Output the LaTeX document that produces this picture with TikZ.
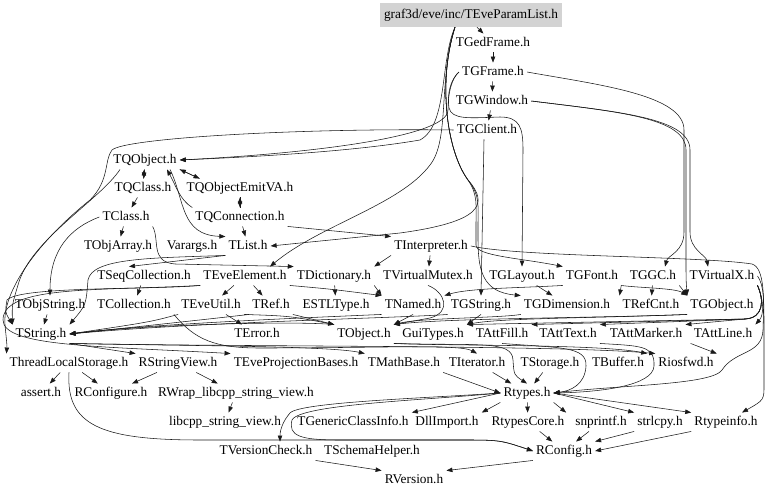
\documentclass[tikz,border=0pt]{standalone}
\usepackage{fontspec}
\setmainfont{Liberation Serif}
\usepackage{tikz}
\usetikzlibrary{arrows.meta}
\definecolor{rootgray}{RGB}{211,211,211}

\begin{document}
\begin{tikzpicture}[x=1pt,y=-1pt,
  font=\fontsize{13.3}{16}\selectfont,
  hdr/.style={inner xsep=3pt,inner ysep=3pt,text height=9.5pt,text depth=3pt},
  inc/.style={-{Triangle[length=6pt,width=4.5pt]},line width=0.55pt,black!90}]
\useasboundingbox (0,0) rectangle (768,497);

\node[hdr,fill=rootgray,inner sep=0pt,minimum width=182pt,minimum height=24pt] (param) at (471,15) {graf3d/eve/inc/TEveParamList.h};
\node[hdr] (gedframe) at (493,43) {TGedFrame.h};
\node[hdr] (gframe) at (493,72) {TGFrame.h};
\node[hdr] (gwindow) at (492,101) {TGWindow.h};
\node[hdr] (gclient) at (487,130) {TGClient.h};
\node[hdr] (qobject) at (145,160) {TQObject.h};
\node[hdr] (qclass) at (143,188) {TQClass.h};
\node[hdr] (qemit) at (240,188) {TQObjectEmitVA.h};
\node[hdr] (tclass) at (126,217) {TClass.h};
\node[hdr] (qconn) at (240,217) {TQConnection.h};
\node[hdr] (objarray) at (118,246) {TObjArray.h};
\node[hdr] (varargs) at (192,246) {Varargs.h};
\node[hdr] (tlist) at (248,246) {TList.h};
\node[hdr] (interp) at (431,246) {TInterpreter.h};
\node[hdr] (seqcoll) at (144,276) {TSeqCollection.h};
\node[hdr] (eveelem) at (245,276) {TEveElement.h};
\node[hdr] (dict) at (334,276) {TDictionary.h};
\node[hdr] (vmutex) at (428,276) {TVirtualMutex.h};
\node[hdr] (glayout) at (522,276) {TGLayout.h};
\node[hdr] (gfont) at (592,276) {TGFont.h};
\node[hdr] (ggc) at (653,276) {TGGC.h};
\node[hdr] (vx) at (722,276) {TVirtualX.h};
\node[hdr] (objstring) at (50,305) {TObjString.h};
\node[hdr] (coll) at (134,305) {TCollection.h};
\node[hdr] (eveutil) at (211,305) {TEveUtil.h};
\node[hdr] (tref) at (271,305) {TRef.h};
\node[hdr] (estl) at (336,305) {ESTLType.h};
\node[hdr] (named) at (413,305) {TNamed.h};
\node[hdr] (gstring) at (481,305) {TGString.h};
\node[hdr] (gdim) at (567,305) {TGDimension.h};
\node[hdr] (refcnt) at (651,305) {TRefCnt.h};
\node[hdr] (gobject) at (722,305) {TGObject.h};
\node[hdr] (tstring) at (41,334) {TString.h};
\node[hdr] (terror) at (257,334) {TError.h};
\node[hdr] (tobject) at (364,334) {TObject.h};
\node[hdr] (guitypes) at (433,334) {GuiTypes.h};
\node[hdr] (attfill) at (502,334) {TAttFill.h};
\node[hdr] (atttext) at (568,334) {TAttText.h};
\node[hdr] (attmarker) at (646,334) {TAttMarker.h};
\node[hdr] (attline) at (723,334) {TAttLine.h};
\node[hdr] (tls) at (69,363) {ThreadLocalStorage.h};
\node[hdr] (rsv) at (178,363) {RStringView.h};
\node[hdr] (projb) at (296,363) {TEveProjectionBases.h};
\node[hdr] (mathbase) at (404,363) {TMathBase.h};
\node[hdr] (iter) at (477,363) {TIterator.h};
\node[hdr] (storage) at (550,363) {TStorage.h};
\node[hdr] (buffer) at (618,363) {TBuffer.h};
\node[hdr] (riosfwd) at (686,363) {Riosfwd.h};
\node[hdr] (assert) at (41,393) {assert.h};
\node[hdr] (rconfigure) at (111,393) {RConfigure.h};
\node[hdr] (rwrap) at (236,393) {RWrap\_libcpp\_string\_view.h};
\node[hdr] (rtypes) at (527,393) {Rtypes.h};
\node[hdr] (libcpp) at (225,422) {libcpp\_string\_view.h};
\node[hdr] (genclass) at (353,422) {TGenericClassInfo.h};
\node[hdr] (dllimport) at (447,422) {DllImport.h};
\node[hdr] (rtypescore) at (528,422) {RtypesCore.h};
\node[hdr] (snprintf) at (601,422) {snprintf.h};
\node[hdr] (strlcpy) at (660,422) {strlcpy.h};
\node[hdr] (rtypeinfo) at (726,422) {Rtypeinfo.h};
\node[hdr] (versioncheck) at (266,451) {TVersionCheck.h};
\node[hdr] (schema) at (372,451) {TSchemaHelper.h};
\node[hdr] (rconfig) at (564,451) {RConfig.h};
\node[hdr] (rversion) at (414,480) {RVersion.h};

\draw[inc] ([xshift=6pt]param.south) -- (gedframe);
\draw[inc] (gedframe) -- (gframe);
\draw[inc] (gframe) -- (gwindow);
\draw[inc] (gwindow) -- (gclient);
\draw[inc] ([xshift=-16pt]param.south) .. controls (440,60) and (448,125) .. (420,140) .. controls (350,152) and (250,157) .. (qobject.east);
\draw[inc] (gframe.west) .. controls (452,78) and (448,92) .. (448,110) .. controls (448,138) and (300,154) .. (qobject.east);
\draw[inc] ([xshift=-16pt]param.south) .. controls (438,80) and (446,150) .. (468,180) .. controls (490,205) and (480,222) .. (400,233) -- (tlist.east);
\draw[inc] ([xshift=-16pt]param.south) .. controls (438,80) and (450,140) .. (430,165) .. controls (400,205) and (320,225) .. ([xshift=25pt]eveelem.north);
\draw[inc] ([xshift=-16pt]param.south) .. controls (438,80) and (446,150) .. (468,180) .. controls (480,195) and (478,205) .. (478,225) -- (478,238) .. controls (478,270) and (482,292) .. (gdim.north west);
\draw[inc] ([xshift=-16pt]param.south) .. controls (438,80) and (446,150) .. (468,180) .. controls (478,195) and (476,205) .. (476,225) -- (476,245) .. controls (476,256) and (520,258) .. (gfont.north west);
\draw[inc] (gclient.west) .. controls (300,128) and (125,138) .. (112,150) .. controls (104,160) and (110,180) .. (90,200) .. controls (40,240) and (2,290) .. (5,325) .. controls (7,345) .. (tls.north west);
\draw[inc] ([xshift=-25pt]qobject.south) .. controls (100,200) and (30,240) .. (18,285) .. controls (12,305) .. (tstring.north west);

\draw[inc] (qobject) -- (qclass);
\draw[inc] (qclass) -- (qobject);
\draw[inc] (qobject.south east) -- ([xshift=16pt]qemit.north west);
\draw[inc] ([xshift=16pt]qemit.north west) -- (qobject.south east);
\draw[inc] (qemit) -- (qconn);
\draw[inc] (qconn) -- (qemit);
\draw[inc] (qclass) -- (tclass);
\draw[inc] (tclass) -- (objarray);
\draw[inc] (tclass.west) .. controls (70,228) and (50,250) .. (objstring.north);
\draw[inc] (tclass.south east) .. controls (160,240) and (150,262) .. (175,264) -- (dict.north west);
\draw[inc] ([xshift=25pt]qobject.south) .. controls (185,200) and (180,235) .. (tlist.north west);
\draw[inc] (qconn.north west) .. controls (180,200) and (176,186) .. ([xshift=22pt]qobject.south);
\draw[inc] (qconn) -- (tlist);
\draw[inc] (qconn.south east) -- (interp.north west);
\draw[inc] (tlist.south west) -- ([xshift=-15pt]seqcoll.north);
\draw[inc] (tlist.south west) .. controls (150,258) and (92,258) .. (88,280) .. controls (86,305) .. (tstring.north east);

\draw[inc] (gframe.west) .. controls (450,80) and (447,95) .. (449,108) .. controls (452,120) and (470,118) .. (500,117) .. controls (520,117) and (523,128) .. (523,150) -- (glayout.north);
\draw[inc] (gframe.east) .. controls (600,85) and (684,95) .. (684,130) -- (684,232) .. controls (684,252) and (668,255) .. ([xshift=12pt]ggc.north);
\draw[inc] (gwindow.east) .. controls (620,112) and (690,118) .. (690,150) -- (690,232) .. controls (690,250) and (706,255) .. ([xshift=-14pt]vx.north);
\draw[inc] (gwindow.east) .. controls (620,112) and (686,118) .. (686,150) -- (686,260) .. controls (686,280) .. (gobject.north west);
\draw[inc] ([xshift=-3pt]gclient.south) -- (gstring.north);
\draw[inc] (interp.east) .. controls (520,257) and (700,256) .. (752,264) .. controls (765,268) and (764,300) .. (763,330) .. controls (762,355) and (735,350) .. (722,370) .. controls (712,385) and (620,385) .. (rtypes.east);

\draw[inc] (ggc) -- (refcnt);
\draw[inc] (gfont.south east) -- (refcnt.north west);
\draw[inc] (ggc.south east) -- (gobject.north west);
\draw[inc] (gfont.south east) .. controls (640,288) and (675,288) .. (gobject.north west);
\draw[inc] (glayout) -- (gdim);
\draw[inc] (gfont.south west) .. controls (520,288) and (470,288) .. (named.north east);
\draw[inc] (interp.south west) -- (dict.north east);
\draw[inc] (interp) -- (vmutex);
\draw[inc] (dict) -- (estl);
\draw[inc] (dict.south east) -- (named.north west);
\draw[inc] (vmutex.south) .. controls (445,292) and (452,312) .. (430,318) -- (tobject.north east);

\draw[inc] (eveelem) -- (eveutil);
\draw[inc] (eveelem) -- (tref);
\draw[inc] (eveelem.south east) .. controls (330,289) .. (named.north west);
\draw[inc] (eveelem.south west) .. controls (150,290) and (20,286) .. (7,300) .. controls (5,312) .. (tstring.north west);
\draw[inc] (eveelem.south west) .. controls (100,291) and (3,285) .. (3,320) .. controls (3,347) and (100,346) .. (projb.north west);
\draw[inc] (seqcoll) -- (coll);
\draw[inc] (eveutil) -- (terror);
\draw[inc] (eveutil.south west) .. controls (150,322) .. (tstring.east);
\draw[inc] (eveutil.south east) .. controls (290,316) .. (tobject.north west);
\draw[inc] (tref.south east) -- (tobject.north west);
\draw[inc] (tref.south west) .. controls (200,320) .. (tstring.east);
\draw[inc] (objstring) -- (tstring);
\draw[inc] (coll.south east) .. controls (195,340) and (215,348) .. (260,348) .. controls (380,348) and (460,344) .. (iter.north);

\draw[inc] (tstring.south east) -- (rsv.north west);
\draw[inc] (tstring.south east) .. controls (200,346) and (330,346) .. (mathbase.north west);
\draw[inc] (tstring.south east) .. controls (250,347) and (560,345) .. (riosfwd.north west);
\draw[inc] (tobject.north west) .. controls (300,321) and (150,324) .. (tstring.east);
\draw[inc] (tobject.south east) .. controls (480,346) and (512,340) .. (513,360) .. controls (514,375) .. (rtypes.north);
\draw[inc] (tobject.south east) .. controls (450,346) and (600,344) .. (buffer.north east);
\draw[inc] (named.south) -- (tobject.north east);
\draw[inc] (named.south west) .. controls (300,318) and (150,324) .. (tstring.east);
\draw[inc] (gstring.south west) .. controls (400,318) and (200,322) .. (tstring.east);
\draw[inc] (gstring.south) -- (guitypes.north east);
\draw[inc] (gdim.south west) .. controls (500,318) and (420,318) .. (tobject.north east);
\draw[inc] (gobject.south west) .. controls (600,318) and (450,318) .. (tobject.north east);
\draw[inc] (gobject.south west) .. controls (600,318) and (500,318) .. (guitypes.north east);

\draw[inc] (vx.south east) .. controls (764,300) and (764,315) .. (attline.north east);
\draw[inc] (vx.south east) .. controls (764,300) and (764,318) .. (745,319) -- (attmarker.north east);
\draw[inc] (vx.south east) .. controls (764,300) and (764,318) .. (745,319) -- (atttext.north east);
\draw[inc] (vx.south east) .. controls (764,300) and (764,318) .. (745,319) -- (attfill.north east);
\draw[inc] (vx.south east) .. controls (764,300) and (764,318) .. (745,319) -- (guitypes.north east);
\draw[inc] (vx.east) .. controls (764,285) and (764,300) .. (764,330) -- (764,385) .. controls (764,400) .. ([xshift=16pt]rtypeinfo.north);
\draw[inc] (attline.south west) -- (riosfwd.north east);

\draw[inc] (mathbase.south east) -- (rtypes.west);
\draw[inc] (iter) -- (rtypes);
\draw[inc] (storage) -- (rtypes);
\draw[inc] (attfill.south) .. controls (560,348) and (587,346) .. (586,366) .. controls (585,385) and (570,391) .. (rtypes.east);
\draw[inc] (atttext.south east) .. controls (640,346) and (655,345) .. (654,366) .. controls (653,386) and (600,392) .. (rtypes.east);

\draw[inc] (rtypes.west) -- (genclass.north east);
\draw[inc] (rtypes.south west) -- (dllimport.north east);
\draw[inc] (rtypes) -- (rtypescore);
\draw[inc] (rtypes.south east) -- ([xshift=-6pt]snprintf.north west);
\draw[inc] (rtypes.east) -- (strlcpy.north west);
\draw[inc] (rtypes.east) -- (rtypeinfo.north west);
\draw[inc] (rtypes.west) .. controls (430,398) and (300,402) .. (290,413) .. controls (283,421) and (280,430) .. ([xshift=14pt]versioncheck.north);
\draw[inc] (rtypes.west) .. controls (430,400) and (300,404) .. (292,420) .. controls (288,436) and (300,440) .. (340,440) -- (460,440) .. controls (500,440) .. (rconfig.west);
\draw[inc] (tls.south) .. controls (66,425) and (100,440) .. (200,440) -- (460,440) .. controls (500,440) .. (rconfig.west);
\draw[inc] (rtypescore) -- (rconfig);
\draw[inc] (snprintf) -- (rconfig);
\draw[inc] (strlcpy.south west) -- (rconfig.north east);
\draw[inc] (rtypeinfo.south west) -- (rconfig.east);
\draw[inc] (rconfig.south west) -- (rversion.north east);
\draw[inc] (versioncheck.south east) -- (rversion.north west);

\draw[inc] (tls) -- (assert);
\draw[inc] (tls) -- (rconfigure);
\draw[inc] (rsv) -- (rconfigure);
\draw[inc] (rsv) -- (rwrap);
\draw[inc] (rwrap) -- (libcpp);
\end{tikzpicture}
\end{document}
